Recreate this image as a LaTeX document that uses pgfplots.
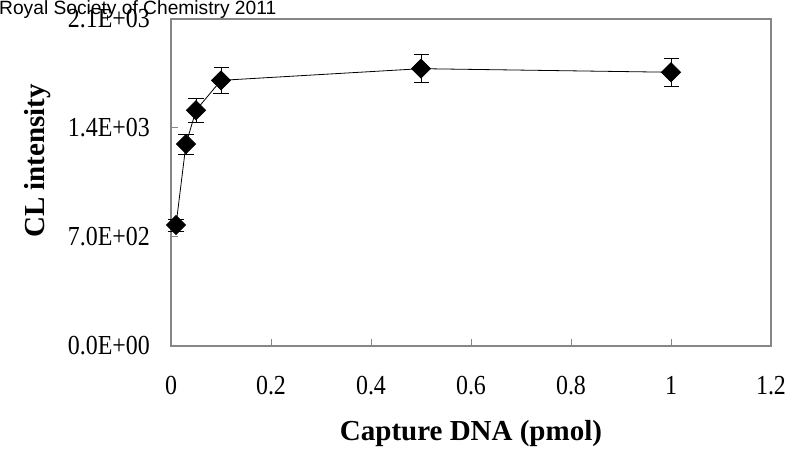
\documentclass[border=0pt]{standalone}
\usepackage{pgfplots}
\pgfplotsset{compat=1.18}
\usepackage{fontspec}
\setmainfont{Liberation Serif}
\newfontfamily\tickfont{Liberation Serif}[FakeStretch=0.87]
\newfontfamily\arialfont{Liberation Sans}
\definecolor{axgray}{RGB}{134,134,134}
\begin{document}
\begin{tikzpicture}
\useasboundingbox (0,0) rectangle (791bp,451bp);
\begin{axis}[
  at={(171bp,105bp)}, anchor=south west,
  width=600bp, height=327bp, scale only axis,
  xmin=0, xmax=1.2, ymin=0, ymax=2100,
  xtick={0,0.2,0.4,0.6,0.8,1,1.2},
  xticklabels={0,0.2,0.4,0.6,0.8,1,1.2},
  ytick={0,700,1400,2100},
  yticklabels={0.0E+00,7.0E+02,1.4E+03,2.1E+03},
  /pgf/number format/assume math mode=true,
  tick pos=left, tick align=inside,
  major tick length=7bp,
  tick style={axgray, line width=1bp},
  axis line style={axgray, line width=1.5bp},
  ticklabel style={font=\tickfont\fontsize{27.5bp}{29bp}\selectfont, inner sep=0pt},
  xticklabel style={anchor=north, yshift=-30bp},
  yticklabel style={anchor=east, xshift=-21bp},
  xlabel={\textbf{Capture DNA (pmol)}},
  ylabel={\textbf{CL intensity}},
  xlabel style={font=\fontsize{29bp}{31bp}\selectfont, at={(axis description cs:0.5,-0.2905)}, anchor=base},
  ylabel style={font=\fontsize{29bp}{31bp}\selectfont, at={(axis description cs:-0.21,0.566)}, anchor=base},
  clip=false,
]
\addplot[black, line width=0.8bp, mark=square*, mark size=6.7bp,
  mark options={rotate=45, fill=black, draw=black},
  error bars/.cd, y dir=both, y explicit,
  error bar style={black, line width=0.8bp},
  error mark options={rotate=90, mark size=7.5bp, black, line width=0.8bp}]
coordinates {
  (0.01,777) +- (0,39)
  (0.03,1297) +- (0,65)
  (0.05,1514) +- (0,76)
  (0.1,1706) +- (0,85)
  (0.5,1781) +- (0,89)
  (1.0,1758) +- (0,88)
};
\end{axis}
\node[anchor=base west, inner sep=0pt, font=\arialfont\fontsize{19.2bp}{21bp}\selectfont] at (-1bp,436bp) {Royal Society of Chemistry 2011};
\end{tikzpicture}
\end{document}
